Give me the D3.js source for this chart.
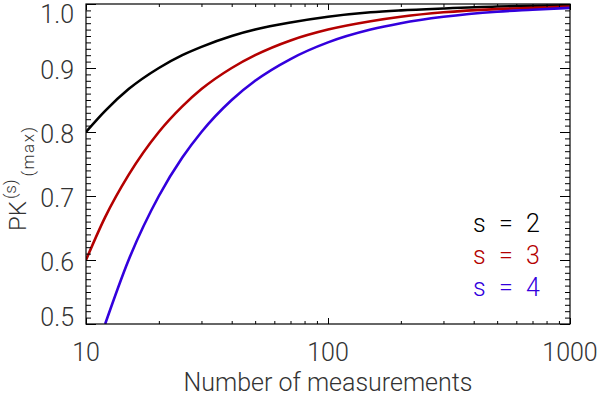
<!DOCTYPE html>
<html>
<head>
<meta charset="utf-8">
<script src="https://cdn.jsdelivr.net/npm/d3@7"></script>
<style>
  body { margin: 0; background: #fff; }
  text { font-family: Roboto, "Liberation Sans", sans-serif; font-weight: 300; fill: #333; }
</style>
</head>
<body>
<div id="chart"></div>
<script>
const nValues = [10, 12, 15, 20, 25, 30, 40, 50, 70, 100, 150, 200, 300, 500, 700, 1000];
const pkS2 = [0.800, 0.833, 0.867, 0.900, 0.920, 0.933, 0.950, 0.960, 0.971, 0.980, 0.987, 0.990, 0.993, 0.996, 0.997, 0.998];
const pkS3 = [0.600, 0.667, 0.733, 0.800, 0.840, 0.867, 0.900, 0.920, 0.943, 0.960, 0.973, 0.980, 0.987, 0.992, 0.994, 0.996];
const pkS4 = [null, 0.500, 0.600, 0.700, 0.760, 0.800, 0.850, 0.880, 0.914, 0.940, 0.960, 0.970, 0.980, 0.988, 0.991, 0.994];
const seriesNames = ["2", "3", "4"];
const seriesColors = ["#000000", "#b40000", "#3300dd"];

const xTicks = [10, 100, 1000];
const yTicks = [0.5, 0.6, 0.7, 0.8, 0.9, 1.0];

const width = 598, height = 401;
const margin = {left: 86, right: 28, top: 4, bottom: 77};

const svg = d3.select("#chart")
  .append("svg")
  .attr("width", width)
  .attr("height", height);

const x = d3.scaleLog()
  .domain([10, 1000])
  .range([margin.left, width - margin.right]);

const y = d3.scaleLinear()
  .domain([0.5, 1.0])
  .range([height - margin.bottom, margin.top]);

// clip so curves stay inside the box
svg.append("clipPath").attr("id", "clip")
  .append("rect")
  .attr("x", margin.left).attr("y", margin.top)
  .attr("width", x.range()[1] - margin.left)
  .attr("height", y.range()[0] - margin.top);

const line = d3.line()
  .defined(d => d[1] != null)
  .x(d => x(d[0]))
  .y(d => y(d[1]))
  .curve(d3.curveMonotoneX);

const curves = [pkS2, pkS3, pkS4];
curves.forEach(function (vals, i) {
  svg.append("path")
    .datum(nValues.map((n, j) => [n, vals[j]]))
    .attr("clip-path", "url(#clip)")
    .attr("fill", "none")
    .attr("stroke", seriesColors[i])
    .attr("stroke-width", 2.6)
    .attr("d", line);
});

// minor tick values
const xMinor = [];
[10, 100].forEach(d => { for (let k = 2; k <= 9; k++) xMinor.push(d * k); });
const yMinor = d3.range(51).map(i => 0.5 + i * 0.01);

const x0 = x.range()[0], x1 = x.range()[1];
const y0 = y.range()[0], y1 = y.range()[1];

function drawAxis(axis, tx, ty) {
  const g = svg.append("g").attr("transform", `translate(${tx},${ty})`).call(axis);
  g.select(".domain").remove();
  g.selectAll("line").attr("stroke", "#000").attr("stroke-width", 1);
  g.selectAll("text").remove();
  return g;
}

// bottom and top axis ticks (inward)
drawAxis(d3.axisBottom(x).tickValues(xTicks).tickSize(-6), 0, y0);
drawAxis(d3.axisBottom(x).tickValues(xMinor).tickSize(-3), 0, y0);
drawAxis(d3.axisTop(x).tickValues(xTicks).tickSize(-6), 0, y1);
drawAxis(d3.axisTop(x).tickValues(xMinor).tickSize(-3), 0, y1);
// left and right
drawAxis(d3.axisLeft(y).tickValues(yTicks).tickSize(-10), x0, 0);
drawAxis(d3.axisLeft(y).tickValues(yMinor).tickSize(-5), x0, 0);
drawAxis(d3.axisRight(y).tickValues(yTicks).tickSize(-10), x1, 0);
drawAxis(d3.axisRight(y).tickValues(yMinor).tickSize(-5), x1, 0);

// frame
svg.append("rect")
  .attr("x", x0).attr("y", y1)
  .attr("width", x1 - x0).attr("height", y0 - y1)
  .attr("fill", "none")
  .attr("stroke", "#000")
  .attr("stroke-width", 1.2);

// tick labels
svg.selectAll(".xlab")
  .data(xTicks)
  .enter().append("text")
  .attr("x", d => x(d))
  .attr("y", y0 + 28)
  .attr("dy", "0.35em")
  .attr("text-anchor", "middle")
  .attr("font-size", 25)
  .text(d => d);

svg.selectAll(".ylab")
  .data(yTicks)
  .enter().append("text")
  .attr("x", x0 - 12)
  .attr("y", d => Math.min(Math.max(y(d) + 2, 14), y0 - 7))
  .attr("dy", "0.35em")
  .attr("text-anchor", "end")
  .attr("font-size", 25)
  .text(d => d.toFixed(1));

// axis titles
svg.append("text")
  .attr("x", (x0 + x1) / 2)
  .attr("y", 382)
  .attr("dy", "0.35em")
  .attr("text-anchor", "middle")
  .attr("font-size", 25)
  .text("Number of measurements");

const yt = svg.append("text")
  .attr("transform", "translate(26,231) rotate(-90)")
  .attr("text-anchor", "start")
  .attr("font-size", 24);
yt.append("tspan").text("PK");
yt.append("tspan").attr("font-size", 17).attr("dx", 2).attr("dy", -10).text("(s)");
yt.append("tspan").attr("font-size", 17).attr("letter-spacing", 1.5).attr("dx", 3).attr("dy", 18).text("(max)");

// legend
seriesNames.forEach(function (s, i) {
  const ly = 223 + i * 32;
  const g = svg.append("g").attr("font-size", 25);
  [["s", 473], ["=", 499], [s, 526]].forEach(function (p) {
    g.append("text")
      .attr("x", p[1])
      .attr("y", ly)
      .attr("dy", "0.35em")
      .attr("font-size", 25)
      .style("fill", seriesColors[i])
      .text(p[0]);
  });
});
</script>
</body>
</html>
